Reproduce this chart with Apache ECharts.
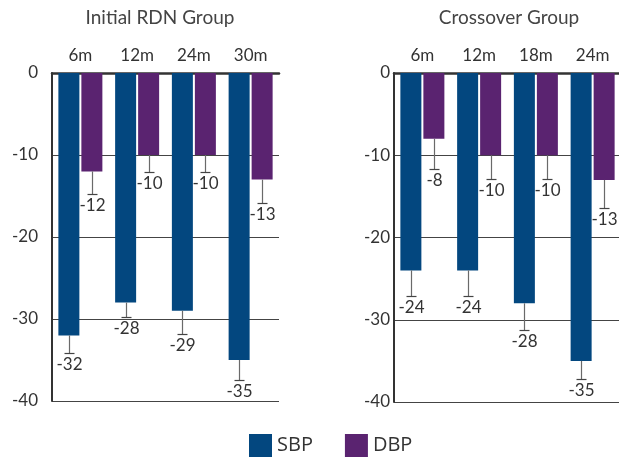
<!DOCTYPE html>
<html>
<head>
<meta charset="utf-8">
<script src="https://cdn.jsdelivr.net/npm/echarts@6/dist/echarts.min.js"></script>
<style>
  html, body { margin: 0; padding: 0; background: #fff; overflow: hidden; }
  #chart { width: 623px; height: 458px; }
</style>
</head>
<body>
<div id="chart"></div>
<script>
// Blood pressure change (mmHg) by follow-up time, two patient groups
const rdnCategories = ['6m', '12m', '24m', '30m'];
const rdnSBP = [-32, -28, -29, -35];
const rdnDBP = [-12, -10, -10, -13];
const rdnSBPErr = [2.1, 1.8, 2.8, 2.4];
const rdnDBPErr = [2.7, 2.1, 2.1, 2.9];

const crossCategories = ['6m', '12m', '18m', '24m'];
const crossSBP = [-24, -24, -28, -35];
const crossDBP = [-8, -10, -10, -13];
const crossSBPErr = [3.1, 3.1, 3.2, 2.2];
const crossDBPErr = [3.7, 2.9, 2.9, 3.4];

const yTicks = [0, -10, -20, -30, -40];
const groupTitles = ['Initial RDN Group', 'Crossover Group'];

const SBP_COLOR = '#03477f';
const DBP_COLOR = '#5a2370';
const TEXT = '#333';
const FONT = 'Lato, "Open Sans", sans-serif';
const BAR_W = 21;
const BAR_GAP = 2;

// Error whisker below each bar, with the value label underneath
function errorSeries(name, axisIdx, values, errs, side) {
  return {
    type: 'custom',
    name: name + '-err',
    xAxisIndex: axisIdx,
    yAxisIndex: axisIdx,
    z: 5,
    silent: true,
    data: values.map((v, i) => [i, v, v - errs[i]]),
    renderItem: function (params, api) {
      const shift = side * (BAR_W + BAR_GAP) / 2;
      const top = api.coord([api.value(0), api.value(1)]);
      const bot = api.coord([api.value(0), api.value(2)]);
      const x = Math.round(top[0] + shift) + 0.5;
      const yb = Math.round(bot[1]) + 0.5;
      return {
        type: 'group',
        children: [
          { type: 'line', shape: { x1: x, y1: top[1], x2: x, y2: yb },
            style: { stroke: '#6a6a6a', lineWidth: 1.2 } },
          { type: 'line', shape: { x1: x - 5, y1: yb, x2: x + 5, y2: yb },
            style: { stroke: '#444', lineWidth: 1.2 } },
          { type: 'text', x: x, y: yb + 3,
            style: { text: String(api.value(1)), fill: TEXT, font: '17px ' + FONT,
                     align: 'center', verticalAlign: 'top' } }
        ]
      };
    }
  };
}

function barSeries(name, axisIdx, values, color) {
  return {
    type: 'bar', name: name, xAxisIndex: axisIdx, yAxisIndex: axisIdx,
    data: values, barWidth: BAR_W, barGap: (BAR_GAP / BAR_W * 100) + '%',
    itemStyle: { color: color }, z: 2
  };
}

function xAxisFor(idx, cats) {
  return {
    type: 'category', gridIndex: idx, data: cats, position: 'top',
    axisLine: { show: true, onZero: false, lineStyle: { color: '#333', width: 2.5 } },
    axisTick: { show: false },
    axisLabel: { color: TEXT, fontSize: 17, fontFamily: FONT, margin: 9 },
    splitLine: { show: false }
  };
}

function yAxisFor(idx, margin) {
  return {
    type: 'value', gridIndex: idx, min: yTicks[yTicks.length - 1], max: yTicks[0], interval: 10,
    axisLine: { show: true, lineStyle: { color: '#333', width: 2 } },
    axisTick: { show: false },
    axisLabel: { color: TEXT, fontSize: 17, fontFamily: FONT, margin: margin },
    splitLine: { show: true, lineStyle: { color: '#444', width: 1 } }
  };
}

const chart = echarts.init(document.getElementById('chart'));
chart.setOption({
  animation: false,
  backgroundColor: '#fff',
  grid: [
    { left: 52, top: 73, width: 227, height: 328 },
    { left: 394, top: 73, width: 227, height: 329 }
  ],
  xAxis: [xAxisFor(0, rdnCategories), xAxisFor(1, crossCategories)],
  yAxis: [yAxisFor(0, 14), yAxisFor(1, 4)],
  legend: {
    data: ['SBP', 'DBP'], left: 249, top: 434, padding: 0,
    icon: 'rect', itemWidth: 23, itemHeight: 23, itemGap: 32,
    textStyle: { color: TEXT, fontSize: 20, fontFamily: '"Open Sans", sans-serif' }
  },
  graphic: [
    { type: 'text', x: 160, y: 18,
      style: { text: groupTitles[0], fill: '#444', font: '19px ' + FONT, align: 'center', verticalAlign: 'middle' } },
    { type: 'text', x: 509, y: 18,
      style: { text: groupTitles[1], fill: '#444', font: '19px ' + FONT, align: 'center', verticalAlign: 'middle' } }
  ],
  series: [
    barSeries('SBP', 0, rdnSBP, SBP_COLOR),
    barSeries('DBP', 0, rdnDBP, DBP_COLOR),
    barSeries('SBP', 1, crossSBP, SBP_COLOR),
    barSeries('DBP', 1, crossDBP, DBP_COLOR),
    errorSeries('SBP', 0, rdnSBP, rdnSBPErr, -1),
    errorSeries('DBP', 0, rdnDBP, rdnDBPErr, 1),
    errorSeries('SBP', 1, crossSBP, crossSBPErr, -1),
    errorSeries('DBP', 1, crossDBP, crossDBPErr, 1)
  ]
});
</script>
</body>
</html>
